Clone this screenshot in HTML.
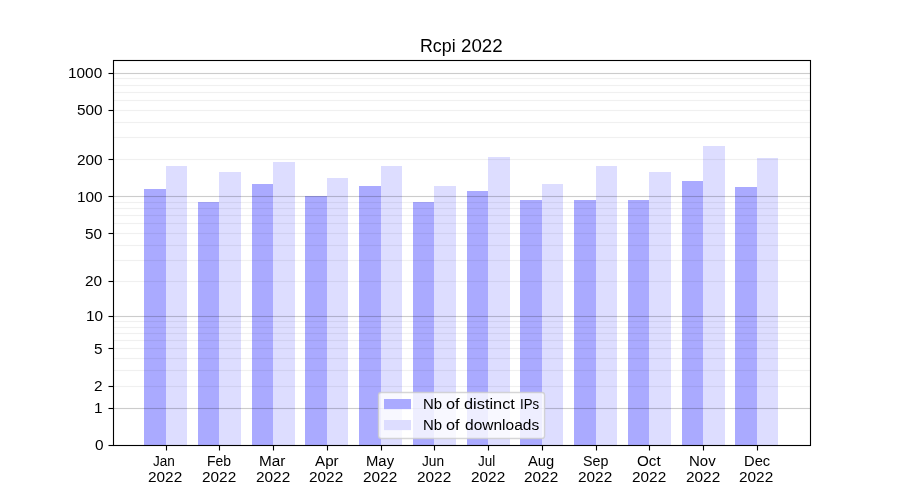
<!DOCTYPE html>
<html lang="en">
<head>
<meta charset="utf-8">
<title>Rcpi 2022</title>
<style>
html,body{margin:0;padding:0;background:#fff}
body{position:relative;width:900px;height:500px;overflow:hidden;font-family:"Liberation Sans",sans-serif;color:#000}
svg{position:absolute;left:0;top:0;display:block}
.labels{position:absolute;left:0;top:0;width:900px;height:500px;will-change:transform;font-size:14.72px;line-height:1}
.labels div{position:absolute;left:0;top:0}
.labels span{position:absolute;white-space:pre;transform-origin:0 0}
.title{font-size:17.66px}
</style>
</head>
<body>
<!-- chart graphics: bars, grid lines, axes, ticks, legend box -->
<svg width="900" height="500" viewBox="0 0 900 500">
<g fill="#aaaaff">
<rect x="144" y="189" width="22" height="256"/>
<rect x="198" y="202" width="21" height="243"/>
<rect x="252" y="184" width="21" height="261"/>
<rect x="305" y="196" width="22" height="249"/>
<rect x="359" y="186" width="22" height="259"/>
<rect x="413" y="202" width="21" height="243"/>
<rect x="467" y="191" width="21" height="254"/>
<rect x="520" y="200" width="22" height="245"/>
<rect x="574" y="200" width="22" height="245"/>
<rect x="628" y="200" width="21" height="245"/>
<rect x="682" y="181" width="21" height="264"/>
<rect x="735" y="187" width="22" height="258"/>
</g>
<g fill="#ddddff">
<rect x="166" y="166" width="21" height="279"/>
<rect x="219" y="172" width="22" height="273"/>
<rect x="273" y="162" width="22" height="283"/>
<rect x="327" y="178" width="21" height="267"/>
<rect x="381" y="166" width="21" height="279"/>
<rect x="434" y="186" width="22" height="259"/>
<rect x="488" y="157" width="22" height="288"/>
<rect x="542" y="184" width="21" height="261"/>
<rect x="596" y="166" width="21" height="279"/>
<rect x="649" y="172" width="22" height="273"/>
<rect x="703" y="146" width="22" height="299"/>
<rect x="757" y="158" width="21" height="287"/>
</g>
<g fill="#000" fill-opacity="0.2">
<rect x="113" y="72.930" width="697.5" height="1.14"/>
<rect x="113" y="195.930" width="697.5" height="1.14"/>
<rect x="113" y="315.930" width="697.5" height="1.14"/>
<rect x="113" y="407.930" width="697.5" height="1.14"/>
</g>
<g fill="#000" fill-opacity="0.06">
<rect x="113" y="77.920" width="697.5" height="1.16"/>
<rect x="113" y="84.920" width="697.5" height="1.16"/>
<rect x="113" y="91.920" width="697.5" height="1.16"/>
<rect x="113" y="99.920" width="697.5" height="1.16"/>
<rect x="113" y="109.920" width="697.5" height="1.16"/>
<rect x="113" y="121.920" width="697.5" height="1.16"/>
<rect x="113" y="136.920" width="697.5" height="1.16"/>
<rect x="113" y="158.920" width="697.5" height="1.16"/>
<rect x="113" y="201.920" width="697.5" height="1.16"/>
<rect x="113" y="207.920" width="697.5" height="1.16"/>
<rect x="113" y="214.920" width="697.5" height="1.16"/>
<rect x="113" y="222.920" width="697.5" height="1.16"/>
<rect x="113" y="232.920" width="697.5" height="1.16"/>
<rect x="113" y="244.920" width="697.5" height="1.16"/>
<rect x="113" y="259.920" width="697.5" height="1.16"/>
<rect x="113" y="280.920" width="697.5" height="1.16"/>
<rect x="113" y="320.920" width="697.5" height="1.16"/>
<rect x="113" y="326.920" width="697.5" height="1.16"/>
<rect x="113" y="332.920" width="697.5" height="1.16"/>
<rect x="113" y="339.920" width="697.5" height="1.16"/>
<rect x="113" y="347.920" width="697.5" height="1.16"/>
<rect x="113" y="357.920" width="697.5" height="1.16"/>
<rect x="113" y="369.920" width="697.5" height="1.16"/>
<rect x="113" y="385.920" width="697.5" height="1.16"/>
</g>
<g fill="#000">
<rect x="108.5" y="72.945" width="5" height="1.11"/>
<rect x="108.5" y="109.945" width="5" height="1.11"/>
<rect x="108.5" y="158.945" width="5" height="1.11"/>
<rect x="108.5" y="195.945" width="5" height="1.11"/>
<rect x="108.5" y="232.945" width="5" height="1.11"/>
<rect x="108.5" y="280.945" width="5" height="1.11"/>
<rect x="108.5" y="315.945" width="5" height="1.11"/>
<rect x="108.5" y="347.945" width="5" height="1.11"/>
<rect x="108.5" y="385.945" width="5" height="1.11"/>
<rect x="108.5" y="407.945" width="5" height="1.11"/>
<rect x="108.5" y="444.945" width="5" height="1.11"/>
<rect x="165.945" y="445.5" width="1.11" height="5"/>
<rect x="218.945" y="445.5" width="1.11" height="5"/>
<rect x="272.945" y="445.5" width="1.11" height="5"/>
<rect x="326.945" y="445.5" width="1.11" height="5"/>
<rect x="380.945" y="445.5" width="1.11" height="5"/>
<rect x="433.945" y="445.5" width="1.11" height="5"/>
<rect x="487.945" y="445.5" width="1.11" height="5"/>
<rect x="541.945" y="445.5" width="1.11" height="5"/>
<rect x="595.945" y="445.5" width="1.11" height="5"/>
<rect x="648.945" y="445.5" width="1.11" height="5"/>
<rect x="702.945" y="445.5" width="1.11" height="5"/>
<rect x="756.945" y="445.5" width="1.11" height="5"/>
</g>
<rect x="113.5" y="60.5" width="697" height="385" fill="none" stroke="#000" stroke-width="1.11"/>
<rect x="378.5" y="392.45" width="166.08" height="46" rx="2.78" ry="2.78" fill="#fff" fill-opacity="0.8" stroke="#ccc" stroke-opacity="0.8" stroke-width="1.39"/>
<rect x="384" y="399" width="27" height="10.12" fill="#aaaaff"/>
<rect x="384" y="420" width="27" height="10.12" fill="#ddddff"/>
</svg>
<div class="labels">
<div><span style="left:423px;top:397px;transform:scaleX(1.015)">Nb</span> <span style="left:446px;top:397px;transform:scaleX(1.106)">of</span> <span style="left:464px;top:397px;transform:scaleX(1.110)">distinct</span> <span style="left:520px;top:397px;transform:scaleX(0.897)">IPs</span></div>
<div><span style="left:423px;top:418px;transform:scaleX(1.015)">Nb</span> <span style="left:446px;top:418px;transform:scaleX(1.106)">of</span> <span style="left:465px;top:418px;transform:scaleX(1.054)">downloads</span></div>
<div><span style="left:153px;top:454px;transform:scaleX(0.922)">Jan</span> <span style="left:148px;top:470px;transform:scaleX(1.045)">2022</span></div>
<div><span style="left:207px;top:454px;transform:scaleX(0.947)">Feb</span> <span style="left:202px;top:470px;transform:scaleX(1.045)">2022</span></div>
<div><span style="left:259px;top:454px;transform:scaleX(1.042)">Mar</span> <span style="left:256px;top:470px;transform:scaleX(1.045)">2022</span></div>
<div><span style="left:315px;top:454px;transform:scaleX(1.033)">Apr</span> <span style="left:309px;top:470px;transform:scaleX(1.045)">2022</span></div>
<div><span style="left:366px;top:454px;transform:scaleX(1.009)">May</span> <span style="left:363px;top:470px;transform:scaleX(1.045)">2022</span></div>
<div><span style="left:422px;top:454px;transform:scaleX(0.933)">Jun</span> <span style="left:417px;top:470px;transform:scaleX(1.045)">2022</span></div>
<div><span style="left:478px;top:454px;transform:scaleX(0.914)">Jul</span> <span style="left:471px;top:470px;transform:scaleX(1.045)">2022</span></div>
<div><span style="left:528px;top:454px;transform:scaleX(1.000)">Aug</span> <span style="left:524px;top:470px;transform:scaleX(1.045)">2022</span></div>
<div><span style="left:583px;top:454px;transform:scaleX(0.970)">Sep</span> <span style="left:578px;top:470px;transform:scaleX(1.045)">2022</span></div>
<div><span style="left:637px;top:454px;transform:scaleX(1.034)">Oct</span> <span style="left:632px;top:470px;transform:scaleX(1.045)">2022</span></div>
<div><span style="left:689px;top:454px;transform:scaleX(1.020)">Nov</span> <span style="left:686px;top:470px;transform:scaleX(1.045)">2022</span></div>
<div><span style="left:744px;top:454px;transform:scaleX(1.000)">Dec</span> <span style="left:739px;top:470px;transform:scaleX(1.045)">2022</span></div>
<div><span style="left:95px;top:438px;transform:scaleX(1.045)">0</span></div>
<div><span style="left:94px;top:401px;transform:scaleX(1.045)">1</span></div>
<div><span style="left:94px;top:379px;transform:scaleX(1.045)">2</span></div>
<div><span style="left:94px;top:342px;transform:scaleX(1.045)">5</span></div>
<div><span style="left:86px;top:309px;transform:scaleX(1.045)">10</span></div>
<div><span style="left:85px;top:274px;transform:scaleX(1.045)">20</span></div>
<div><span style="left:85px;top:227px;transform:scaleX(1.045)">50</span></div>
<div><span style="left:77px;top:190px;transform:scaleX(1.045)">100</span></div>
<div><span style="left:77px;top:153px;transform:scaleX(1.045)">200</span></div>
<div><span style="left:77px;top:103px;transform:scaleX(1.045)">500</span></div>
<div><span style="left:68px;top:66px;transform:scaleX(1.045)">1000</span></div>
<div class="title"><span style="left:420px;top:38px;transform:scaleX(1.008)">Rcpi</span> <span style="left:461px;top:38px;transform:scaleX(1.060)">2022</span></div>
</div>
</body>
</html>
